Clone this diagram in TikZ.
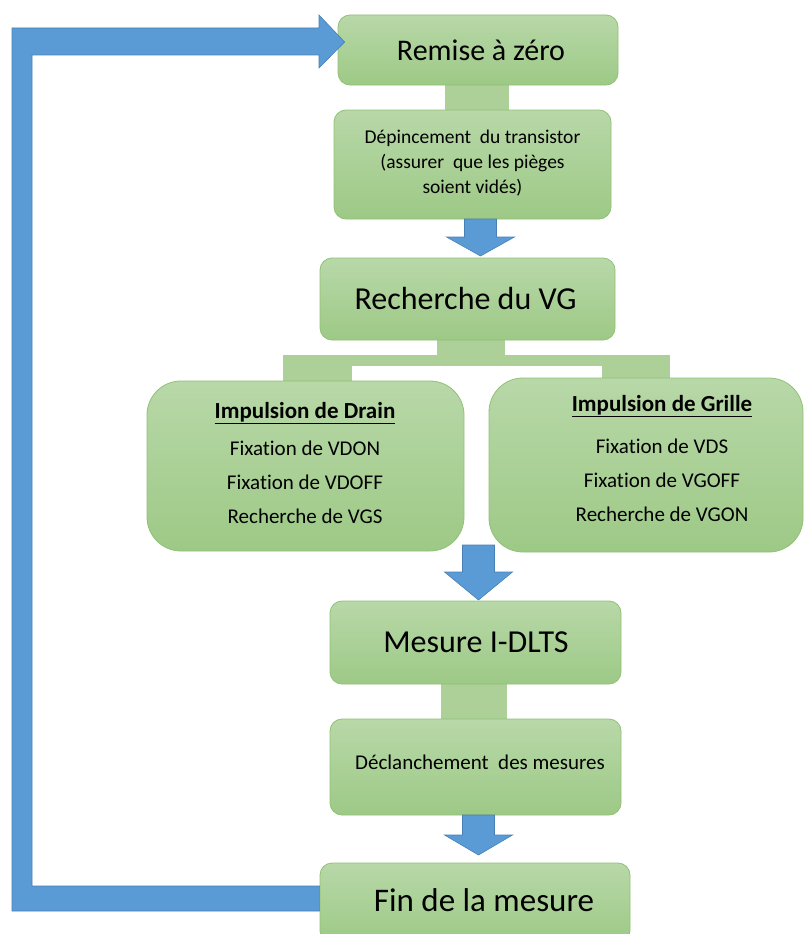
\documentclass[tikz,border=0pt]{standalone}
\usepackage{fontspec}
\setmainfont[Ligatures=NoCommon]{Carlito}
\usetikzlibrary{backgrounds,calc}
\definecolor{gtop}{RGB}{184,216,168}
\definecolor{gbot}{RGB}{157,201,134}
\definecolor{gline}{RGB}{145,193,118}
\definecolor{gconn}{RGB}{172,208,152}
\definecolor{bfill}{RGB}{91,155,213}
\definecolor{bline}{RGB}{72,128,182}
\newcommand\fs[2]{\fontsize{#1}{#2}\selectfont}
% block arrow: #1 x centre, #2 y top, #3 y head start, #4 y tip
\newcommand\blkarrow[4]{%
  \filldraw[barrow] (#1-16,#2) -- (#1+16,#2) -- (#1+16,#3) -- (#1+34,#3) -- (#1,#4)
    -- (#1-34,#3) -- (#1-16,#3) -- cycle;}
\begin{document}
\begin{tikzpicture}[x=1pt,y=-1pt,
  box/.style={draw=gline, line width=0.8pt, rounded corners=12pt,
    top color=gtop, bottom color=gbot, inner sep=0pt, align=center},
  bigbox/.style={box, rounded corners=34pt},
  conn/.style={fill=gconn},
  barrow/.style={fill=bfill, draw=bline, line width=0.6pt, line join=miter},
  txt/.style={align=center, inner sep=0pt}]
\useasboundingbox (0,0) rectangle (805,934);

% boxes
\node[box, minimum width=280pt, minimum height=70pt] (remise) at (478,50) {};
\node[txt, font=\fs{30}{35}] (remiseT) at (481,50) {Remise à zéro};
\node[box, minimum width=277pt, minimum height=109pt] (depin) at (472.5,164.5) {};
\node[txt, font=\fs{19.5}{25}] (depinT) at (472.5,163) {Dépincement\ \ du transistor\\(assurer\ \ que les pièges\\soient vidés)};
\node[box, minimum width=295pt, minimum height=82pt] (rech) at (467.5,299) {};
\node[txt, font=\fs{32}{36}] (rechT) at (465.5,299) {Recherche du VG};
\node[bigbox, minimum width=317pt, minimum height=170pt] (drain) at (305.5,466) {};
\node[txt, font=\fs{21}{34}] (drainT) at (305,463)
  {{\fs{23}{34}\textbf{\underline{Impulsion de Drain}}}\\[3pt]Fixation de VDON\\Fixation de VDOFF\\Recherche de VGS};
\node[bigbox, minimum width=314pt, minimum height=174pt] (grille) at (646,465) {};
\node[txt, font=\fs{21}{34}] (grilleT) at (662,458)
  {{\fs{23}{34}\textbf{\underline{Impulsion de Grille}}}\\[8pt]Fixation de VDS\\Fixation de VGOFF\\Recherche de VGON};
\node[box, minimum width=291pt, minimum height=83pt] (mesure) at (475.5,642.5) {};
\node[txt, font=\fs{32}{36}] (mesureT) at (476,642.5) {Mesure I-DLTS};
\node[box, minimum width=291pt, minimum height=96pt] (declan) at (475.5,767) {};
\node[txt, font=\fs{21}{25}] (declanT) at (480,762) {Déclanchement\ \ des mesures};
\node[box, minimum width=310pt, minimum height=80pt] (fin) at (475,903) {};
\node[txt, font=\fs{33}{38}] (finT) at (484,900) {Fin de la mesure};

% light green connectors (behind boxes)
\begin{scope}[on background layer]
  \fill[conn] ($(remise.south)+(-33,0)$) rectangle ($(remise.south |- depin.north)+(31,0)$);
  \fill[conn] ($(rech.south)+(-30.5,-1)$) rectangle ($(rech.south)+(37.5,16)$);
  \fill[conn] (283,355) rectangle (670,366);
  \fill[conn] (283,365) rectangle ($(drain.north -| 352,0)+(0,1)$);
  \fill[conn] (602,365) rectangle ($(grille.north -| 670,0)+(0,1)$);
  \fill[conn] ($(mesure.south)+(-34.5,-1)$) rectangle ($(mesure.south |- declan.north)+(31.5,1)$);
\end{scope}

% blue block arrows
\blkarrow{480.5}{219}{237}{256}
\blkarrow{478.5}{545}{572}{600}
\blkarrow{478.5}{815}{835}{855}

% return loop
\filldraw[barrow] ($(fin.west |- 0,911)$) -- (12,911) -- (12,28) -- (319,28) -- (319,15)
  -- ($(remise.west)+(7,-8)$) -- (319,68) -- (319,55) -- (32,55) -- (32,886)
  -- ($(fin.west |- 0,886)$) -- cycle;
\end{tikzpicture}
\end{document}
